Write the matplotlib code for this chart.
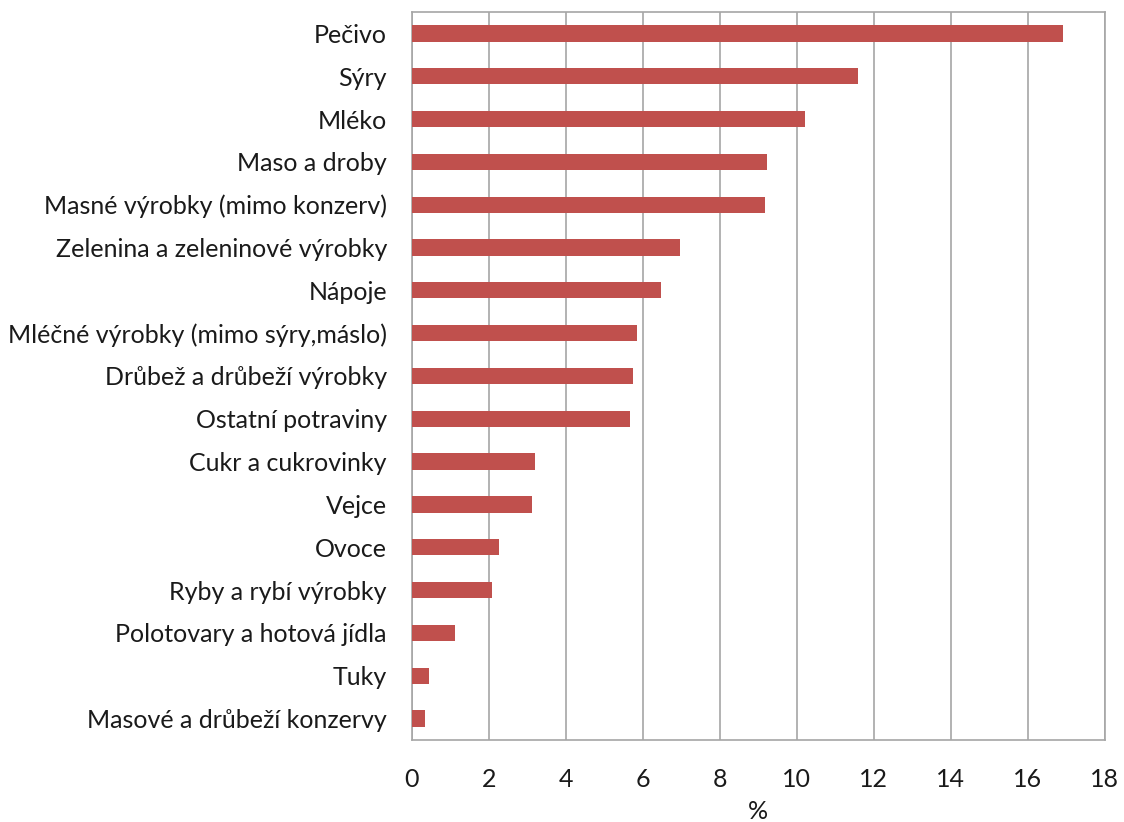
import matplotlib.pyplot as plt
import numpy as np

plt.rcParams['font.family'] = ['Lato', 'DejaVu Sans']

# kategorie potravin a jejich podíl (%)
kategorie = ['Pečivo', 'Sýry', 'Mléko', 'Maso a droby', 'Masné výrobky (mimo konzerv)',
             'Zelenina a zeleninové výrobky', 'Nápoje', 'Mléčné výrobky (mimo sýry,máslo)',
             'Drůbež a drůbeží výrobky', 'Ostatní potraviny', 'Cukr a cukrovinky', 'Vejce',
             'Ovoce', 'Ryby a rybí výrobky', 'Polotovary a hotová jídla', 'Tuky',
             'Masové a drůbeží konzervy']
hodnoty = [16.9, 11.58, 10.22, 9.21, 9.16, 6.95, 6.48, 5.85, 5.75, 5.67,
           3.2, 3.12, 2.26, 2.08, 1.12, 0.45, 0.35]
xticky = [0, 2, 4, 6, 8, 10, 12, 14, 16, 18]

fig = plt.figure(figsize=(11.24, 8.22), dpi=100)
ax = fig.add_axes([0.3665, 0.0998, 0.6165, 0.8856])

y = np.arange(len(kategorie))
ax.barh(y, hodnoty, height=0.38, color='#C0504D', zorder=3)
ax.set_ylim(len(kategorie) - 0.5, -0.5)
ax.set_yticks(y)
ax.set_yticklabels(kategorie, fontsize=18, color='#1a1a1a')
ax.set_xlim(0, 18)
ax.set_xticks(xticky)
ax.set_xticklabels([str(t) for t in xticky], fontsize=18, color='#1a1a1a')
ax.tick_params(axis='both', length=0)
ax.tick_params(axis='x', pad=20)
ax.tick_params(axis='y', pad=18)
ax.grid(axis='x', color='#A6A6A6', linewidth=1.2, zorder=0)
for s in ax.spines.values():
    s.set_color('#A6A6A6')
    s.set_linewidth(1.2)
ax.set_xlabel('%', fontsize=18, color='#1a1a1a', labelpad=7)

fig.savefig('out.png', dpi=100)
